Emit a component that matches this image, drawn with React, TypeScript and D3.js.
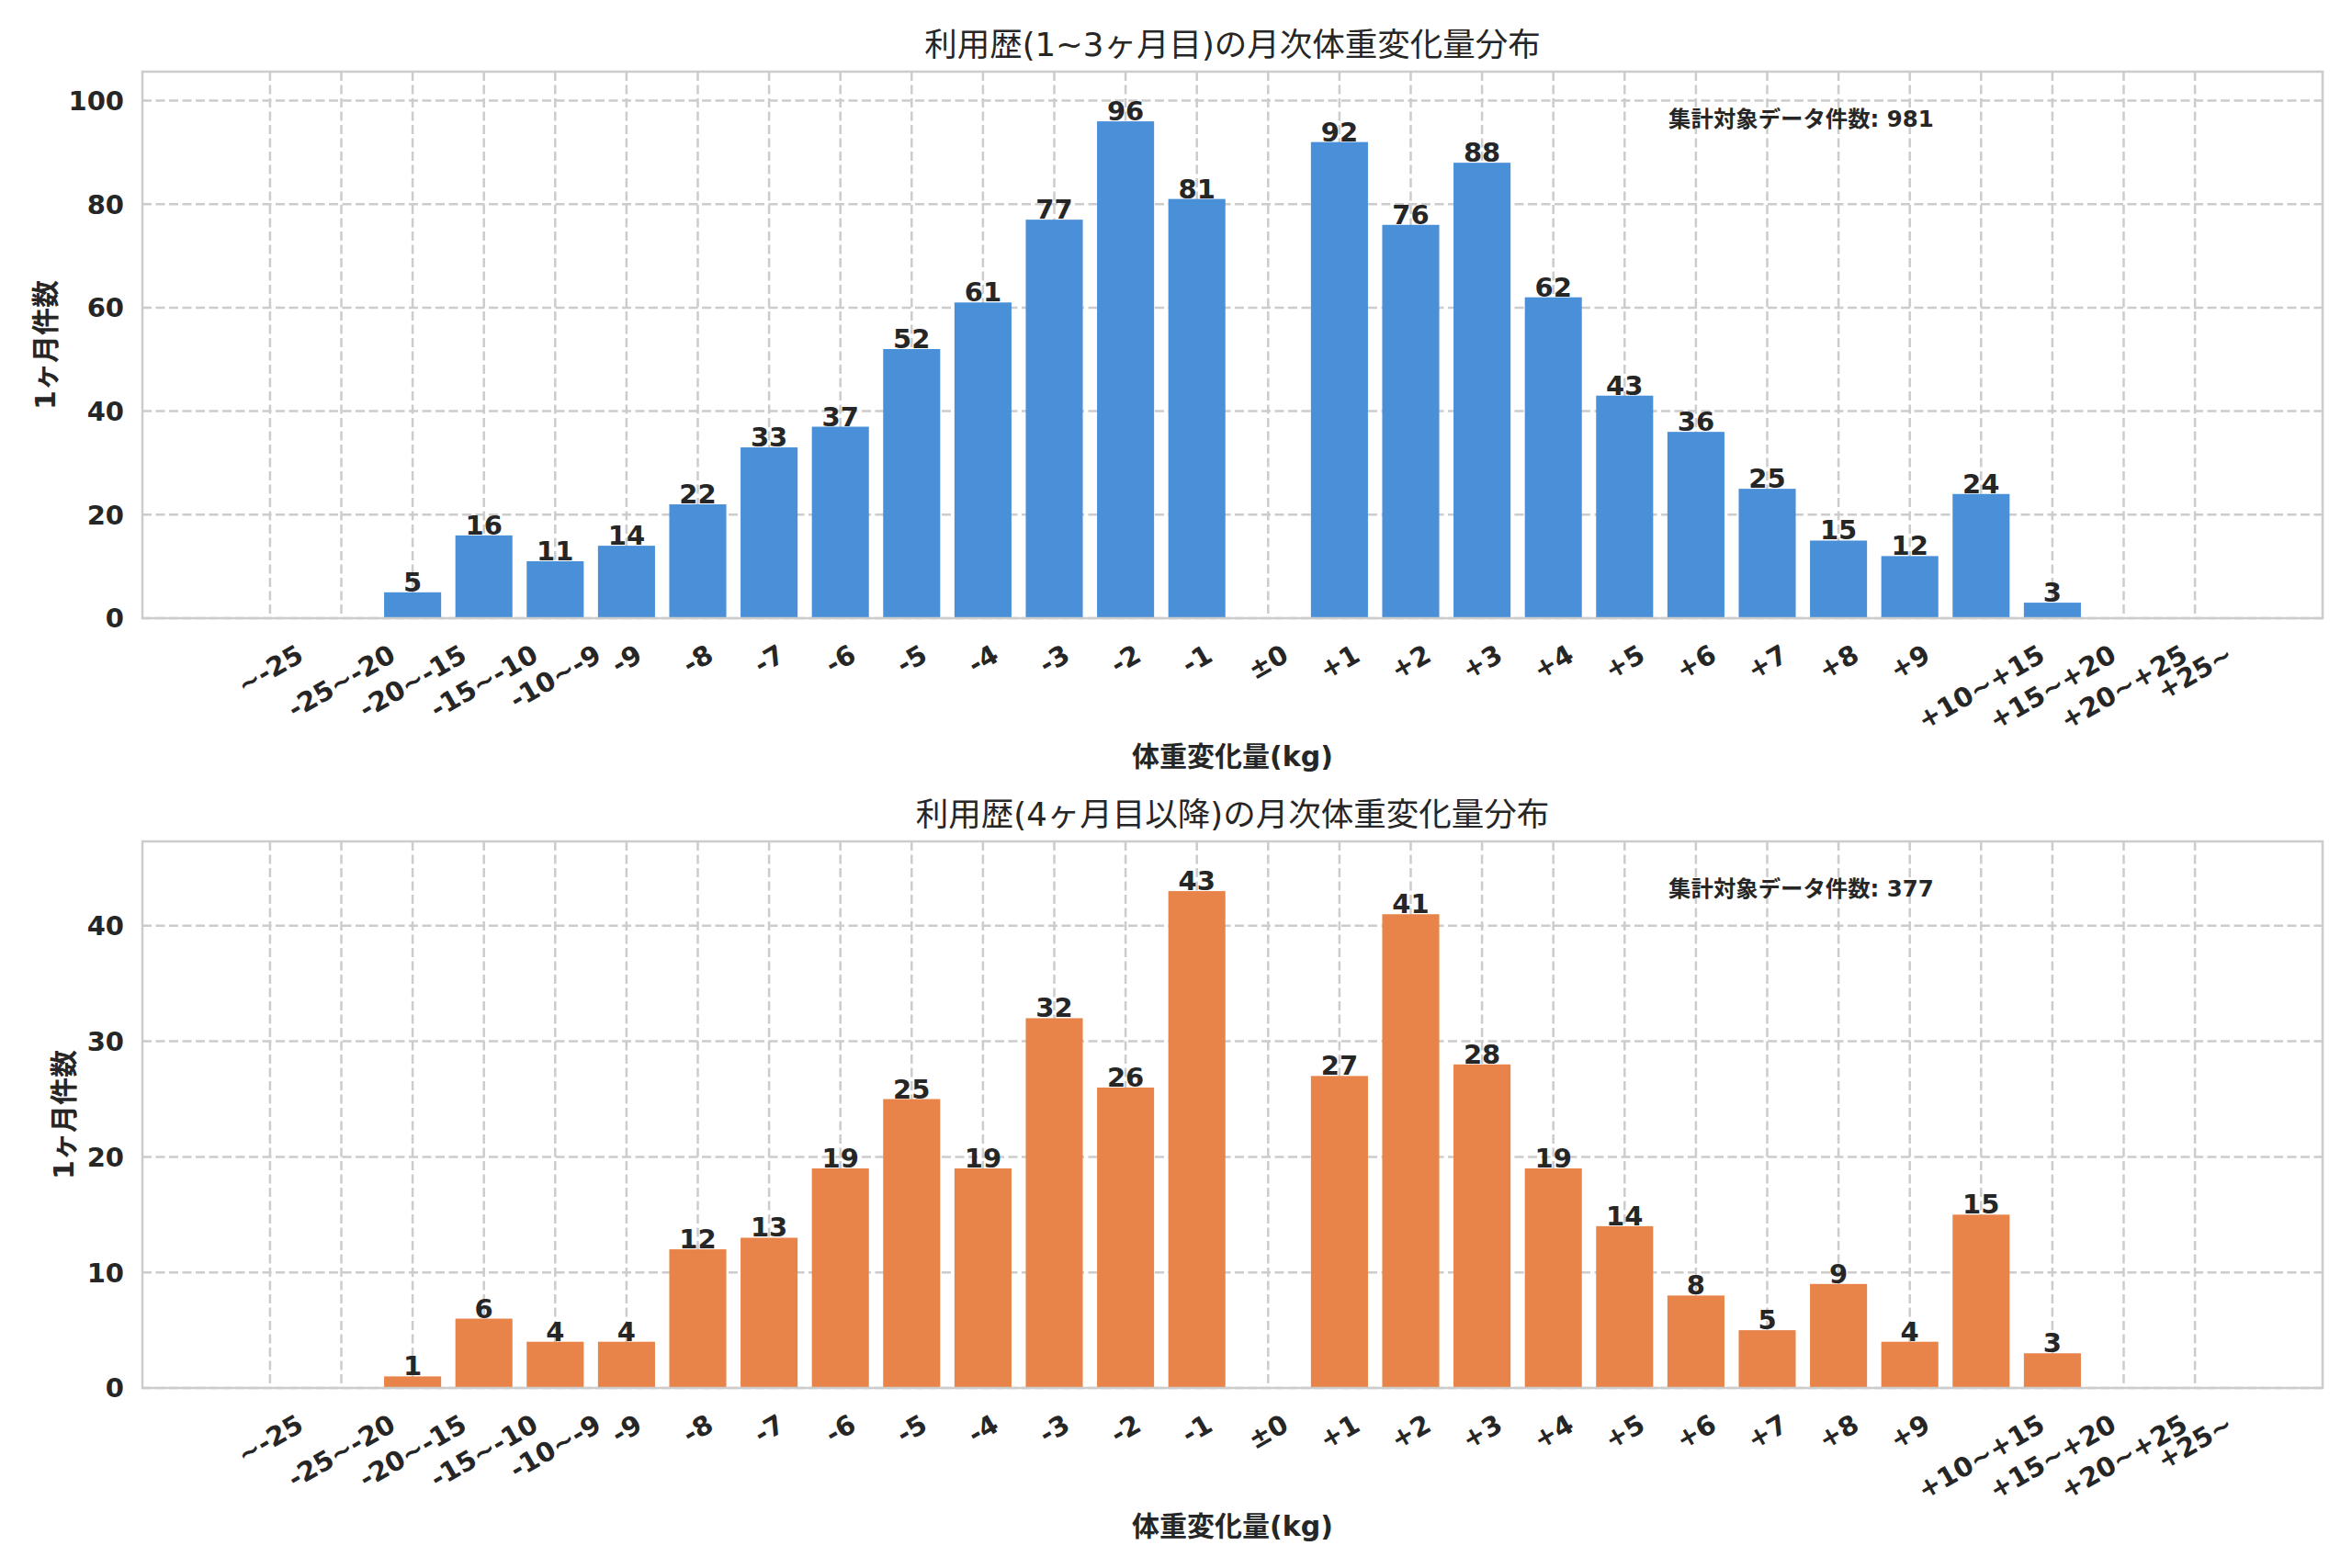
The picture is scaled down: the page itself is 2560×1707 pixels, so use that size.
import React from "react";
import * as d3 from "d3";

const categories = [
  "~-25", "-25~-20", "-20~-15", "-15~-10", "-10~-9",
  "-9", "-8", "-7", "-6", "-5", "-4", "-3", "-2", "-1",
  "±0",
  "+1", "+2", "+3", "+4", "+5", "+6", "+7", "+8", "+9",
  "+10~+15", "+15~+20", "+20~+25", "+25~",
];
const earlyCounts = [0, 0, 5, 16, 11, 14, 22, 33, 37, 52, 61, 77, 96, 81, 0, 92, 76, 88, 62, 43, 36, 25, 15, 12, 24, 3, 0, 0];
const laterCounts = [0, 0, 1, 6, 4, 4, 12, 13, 19, 25, 19, 32, 26, 43, 0, 27, 41, 28, 19, 14, 8, 5, 9, 4, 15, 3, 0, 0];
const earlyTicks = [0, 20, 40, 60, 80, 100];
const laterTicks = [0, 10, 20, 30, 40];

const earlyTitle = "利用歴(1~3ヶ月目)の月次体重変化量分布";
const laterTitle = "利用歴(4ヶ月目以降)の月次体重変化量分布";
const xLabel = "体重変化量(kg)";
const yLabel = "1ヶ月件数";
const totalLabel = "集計対象データ件数";

const FONT = '"DejaVu Sans", "Noto Sans CJK JP", sans-serif';
const TEXT = "#262626";
const GRID = "#cccccc";

let _ctx: CanvasRenderingContext2D | null = null;
function measure(text: string, size: number, weight = "bold") {
  if (!_ctx) _ctx = document.createElement("canvas").getContext("2d");
  _ctx!.font = `${weight} ${size}px "DejaVu Sans", "Noto Sans CJK JP", sans-serif`;
  return _ctx!.measureText(text).width;
}

type PanelProps = {
  top: number;
  title: string;
  counts: number[];
  ticks: number[];
  color: string;
};

function Panel({ top, title, counts, ticks, color }: PanelProps) {
  const left = 155;
  const right = 2528;
  const height = 595;
  const bottom = top + height;
  const n = counts.length;
  const span = n - 1 + 0.8;
  const m = 0.05 * span;
  const x = d3.scaleLinear().domain([-0.4 - m, n - 1 + 0.4 + m]).range([left, right]);
  const y = d3.scaleLinear().domain([0, (d3.max(counts) as number) * 1.1]).range([bottom, top]);
  const bw = x(0.8) - x(0);

  const tickFs = 29;
  const tickH = 1.164 * tickFs;
  const ang = (30 * Math.PI) / 180;
  const maxYW = d3.max(ticks, (t) => measure(String(t), tickFs)) as number;
  const yLabFs = 30;
  const yLabX = left - 20 - maxYW - 8 - (1.164 * yLabFs) / 2;
  const total = d3.sum(counts);

  return (
    <g>
      {/* grid */}
      {ticks.map((t) => (
        <line key={"hy" + t} x1={left} x2={right} y1={y(t)} y2={y(t)} stroke={GRID} strokeWidth={2.5} strokeDasharray="10 4.5" />
      ))}
      {categories.map((c, i) => (
        <line key={"vx" + i} x1={x(i)} x2={x(i)} y1={top} y2={bottom} stroke={GRID} strokeWidth={2.5} strokeDasharray="10 4.5" />
      ))}
      {/* bars */}
      {counts.map((v, i) =>
        v > 0 ? (
          <rect key={"b" + i} x={x(i) - bw / 2} y={y(v)} width={bw} height={y(0) - y(v)} fill={color} />
        ) : null
      )}
      {/* bar labels */}
      {counts.map((v, i) =>
        v > 0 ? (
          <text key={"l" + i} x={x(i)} y={y(v) - 1} textAnchor="middle" fontSize={tickFs} fontWeight="bold" fill={TEXT} fontFamily={FONT}>
            {v}
          </text>
        ) : null
      )}
      {/* spines */}
      <rect x={left} y={top} width={right - left} height={height} fill="none" stroke={GRID} strokeWidth={2.5} />
      {/* y ticks */}
      {ticks.map((t) => (
        <text key={"yt" + t} x={left - 20} y={y(t)} dy="0.36em" textAnchor="end" fontSize={tickFs} fontWeight="bold" fill={TEXT} fontFamily={FONT}>
          {t}
        </text>
      ))}
      {/* x ticks */}
      {categories.map((c, i) => {
        const w = measure(c, tickFs);
        const H = w * Math.sin(ang) + tickH * Math.cos(ang);
        const cy = bottom + 22 + H / 2;
        return (
          <text
            key={"xt" + i}
            transform={`translate(${x(i)},${cy}) rotate(-30)`}
            y={0.346 * tickFs}
            textAnchor="middle"
            fontSize={tickFs}
            fontWeight="bold"
            fill={TEXT}
            fontFamily={FONT}
          >
            {c}
          </text>
        );
      })}
      {/* title */}
      <text x={(left + right) / 2} y={top - 17} textAnchor="middle" fontSize={35.5} fill={TEXT} fontFamily={FONT}>
        {title}
      </text>
      {/* x label */}
      <text x={(left + right) / 2} y={bottom + 150} dy="0.36em" textAnchor="middle" fontSize={30} fontWeight="bold" fill={TEXT} fontFamily={FONT}>
        {xLabel}
      </text>
      {/* y label */}
      <text
        transform={`translate(${yLabX},${(top + bottom) / 2}) rotate(-90)`}
        y={0.36 * yLabFs}
        textAnchor="middle"
        fontSize={yLabFs}
        fontWeight="bold"
        fill={TEXT}
        fontFamily={FONT}
      >
        {yLabel}
      </text>
      {/* annotation */}
      <text x={left + 0.7 * (right - left)} y={top + 60} fontSize={24.4} fontWeight="bold" fill={TEXT} fontFamily={FONT}>
        {`${totalLabel}: ${total}`}
      </text>
    </g>
  );
}

export default function App() {
  return (
    <svg width={2560} height={1707} style={{ position: "absolute", left: 0, top: 0, display: "block" }}>
      <rect x={0} y={0} width={2560} height={1707} fill="#ffffff" />
      <Panel top={78} title={earlyTitle} counts={earlyCounts} ticks={earlyTicks} color="#4a90d9" />
      <Panel top={916} title={laterTitle} counts={laterCounts} ticks={laterTicks} color="#e8844a" />
    </svg>
  );
}
